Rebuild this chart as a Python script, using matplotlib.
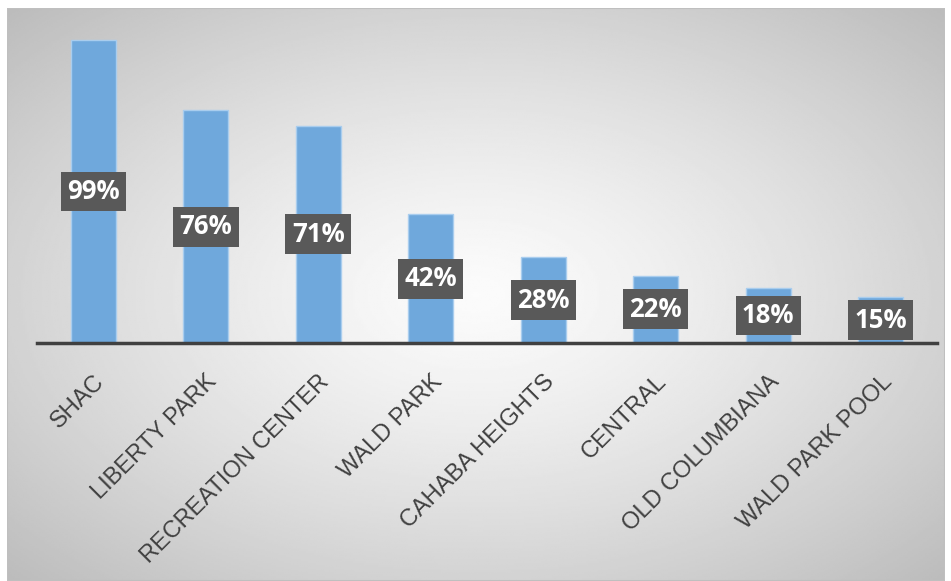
import numpy as np
import matplotlib.pyplot as plt
from matplotlib.patches import Rectangle

facilities = ['SHAC', 'LIBERTY PARK', 'RECREATION CENTER', 'WALD PARK',
              'CAHABA HEIGHTS', 'CENTRAL', 'OLD COLUMBIANA', 'WALD PARK POOL']
percent = [99, 76, 71, 42, 28, 22, 18, 15]

W, H = 951, 581
fig = plt.figure(figsize=(W / 100, H / 100), dpi=100)
fig.patch.set_facecolor('white')

# gradient chart-area background (framed)
bg = fig.add_axes([7 / W, 0, (945 - 7) / W, (H - 8) / H])
yy, xx = np.mgrid[-1:1:300j, -1:1:500j]
r = np.sqrt(xx ** 2 + yy ** 2) / np.sqrt(2)
bg.imshow(0.985 - 0.25 * r ** 1.3, cmap='gray', vmin=0, vmax=1,
          aspect='auto', extent=[0, 1, 0, 1])
bg.add_patch(Rectangle((0, 0), 1, 1, transform=bg.transAxes, fill=False,
                       edgecolor='#bfbfbf', lw=1.5))
bg.set_axis_off()

ax = fig.add_axes([37 / W, (H - 343) / H, 900 / W, 306 / H])
ax.set_facecolor('none')
x = np.arange(len(facilities))
bars = ax.bar(x, percent, width=0.4, color='#6fa8dc', edgecolor='#a9cdee', lw=1)
ax.set_xlim(-0.5, len(facilities) - 0.5)
ax.set_ylim(0, 100)

for b, v in zip(bars, percent):
    ax.text(b.get_x() + b.get_width() / 2, v / 2, f'{v}%', ha='center', va='center',
            color='white', fontsize=18.5, fontweight='bold', family='Open Sans',
            bbox=dict(boxstyle='square,pad=0.25', fc='#595959', ec='none'))

ax.set_xticks(x)
ax.set_xticklabels(facilities, rotation=45, ha='right', rotation_mode='anchor',
                   fontsize=17, color='#404040', family='Liberation Sans')
ax.tick_params(axis='x', length=0, pad=20)
ax.set_yticks([])
for s in ['top', 'right', 'left']:
    ax.spines[s].set_visible(False)
ax.spines['bottom'].set_color('#404040')
ax.spines['bottom'].set_linewidth(2.5)

fig.savefig('out.png', dpi=100)
